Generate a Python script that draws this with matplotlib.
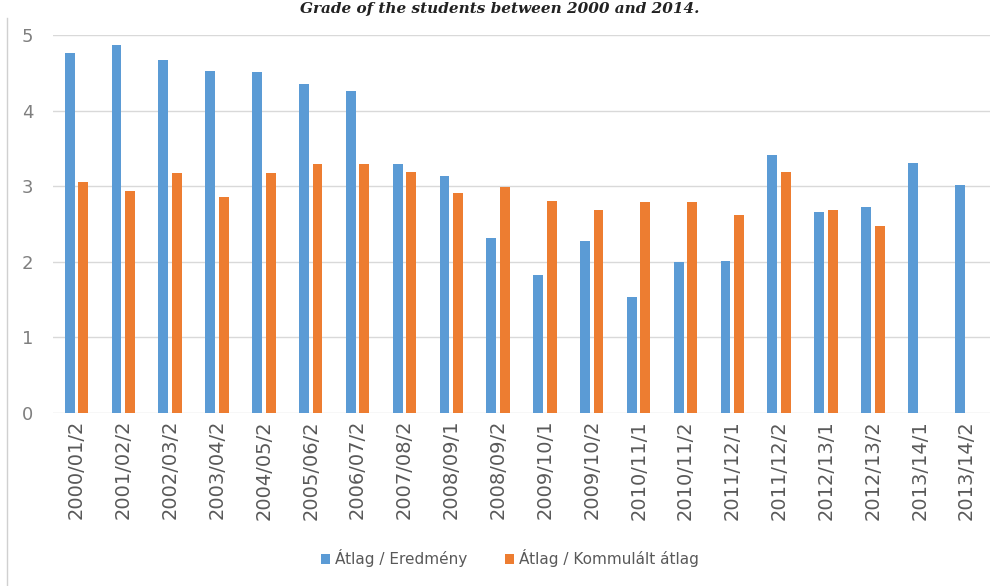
import numpy as np
import matplotlib.pyplot as plt
from matplotlib.lines import Line2D

# DATA
categories = ["2000/01/2", "2001/02/2", "2002/03/2", "2003/04/2", "2004/05/2",
              "2005/06/2", "2006/07/2", "2007/08/2", "2008/09/1", "2008/09/2",
              "2009/10/1", "2009/10/2", "2010/11/1", "2010/11/2", "2011/12/1",
              "2011/12/2", "2012/13/1", "2012/13/2", "2013/14/1", "2013/14/2"]
eredmeny = [4.76, 4.87, 4.67, 4.53, 4.51, 4.35, 4.26, 3.29, 3.14, 2.32,
            1.82, 2.28, 1.53, 2.00, 2.01, 3.41, 2.66, 2.73, 3.31, 3.01]
kommulalt = [3.06, 2.93, 3.17, 2.86, 3.17, 3.29, 3.29, 3.19, 2.91, 2.99,
             2.80, 2.68, 2.79, 2.79, 2.62, 3.19, 2.68, 2.47, np.nan, np.nan]
series_names = ["Átlag / Eredmény", "Átlag / Kommulált átlag"]
title = "Grade of the students between 2000 and 2014."

BLUE = "#5B9BD5"
ORANGE = "#ED7D31"
TXT = "#595959"

fig = plt.figure(figsize=(10, 5.86), dpi=100)
ax = fig.add_axes([0.053, 0.2952, 0.937, 0.6451])

x = np.arange(len(categories))
w = 0.21
ax.bar(x - 0.145, eredmeny, width=w, color=BLUE, label=series_names[0], zorder=3)
ax.bar(x + 0.145, kommulalt, width=w, color=ORANGE, label=series_names[1], zorder=3)

ax.set_xlim(-0.5, len(categories) - 0.5)
ax.set_ylim(0, 5)
ax.set_yticks([0, 1, 2, 3, 4, 5])
ax.yaxis.grid(True, color="#d9d9d9", linewidth=1, zorder=0)
for s in ax.spines.values():
    s.set_visible(False)

ax.set_xticks(x)
ax.set_xticklabels(categories, rotation=90, fontsize=14, color=TXT)
ax.tick_params(axis="x", length=0, pad=5)
ax.tick_params(axis="y", length=0, pad=14, labelsize=13, labelcolor="#7f7f7f")

leg = fig.legend(loc="center", bbox_to_anchor=(0.51, 0.047), ncol=2, frameon=False,
                 fontsize=11, handlelength=0.6, handleheight=0.6, handletextpad=0.3,
                 columnspacing=2.5, labelcolor=TXT)

# chart border on the left
fig.add_artist(Line2D([0.007, 0.007], [0, 0.97], color="#d0d0d0", linewidth=1,
                      transform=fig.transFigure))

# title at the top edge
fig.text(0.5, 0.997, title, ha="center", va="top", fontsize=11,
         family="DejaVu Serif", style="italic", weight="bold", color="#222222")

fig.savefig("out.png", dpi=100)
